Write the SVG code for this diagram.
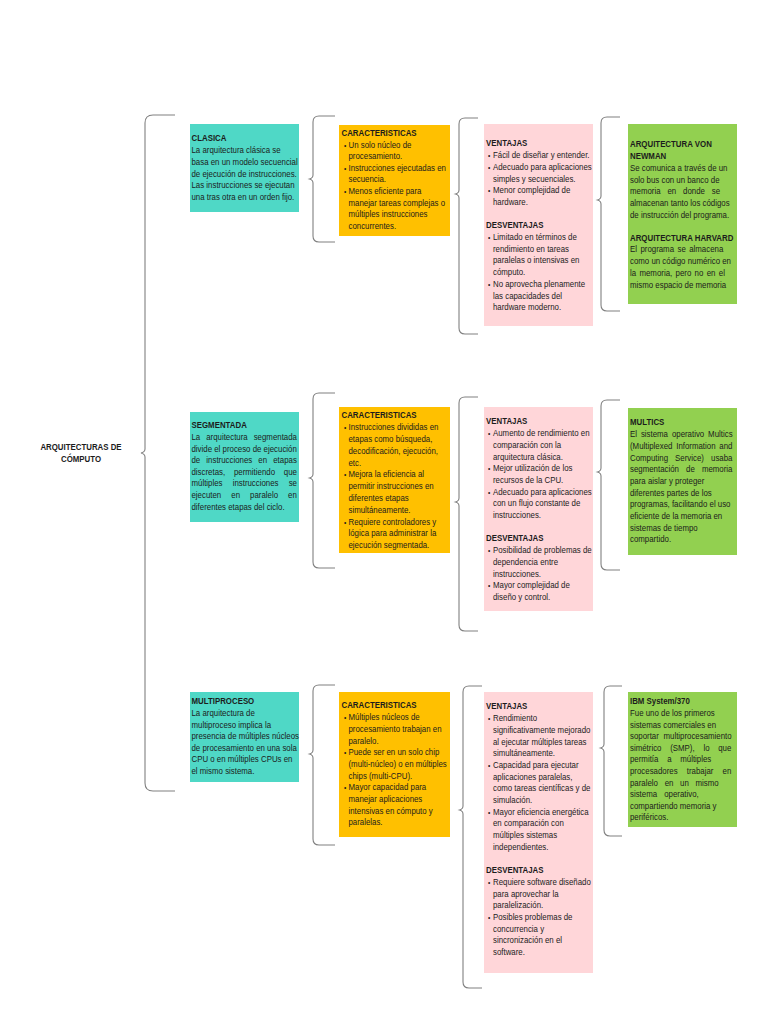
<svg xmlns="http://www.w3.org/2000/svg" width="768" height="1024" viewBox="0 0 768 1024">
<style>
text{font-family:"Liberation Sans",Arial,sans-serif;font-size:9.6px;fill:#1c1c1c}
.h{font-weight:bold}
.bu{font-size:8px}
.br{fill:none;stroke:#808080;stroke-width:1.1}
.teal{fill:#4fd8c6}
.org{fill:#ffc000}
.pink{fill:#ffd6d9}
.grn{fill:#92d050}
</style>
<rect width="768" height="1024" fill="#ffffff"/>
<g id="connectors">
<path class="br" d="M175,115 L153,115 Q145,115 145,123 L145,449 Q145,452 141,453 Q145,454 145,457 L145,783 Q145,791 153,791 L175,791"/>
<path class="br" d="M335,116 L319,116 Q313,116 313,122 L313,175 Q313,178 309.5,179 Q313,180 313,183 L313,236 Q313,242 319,242 L335,242"/>
<path class="br" d="M478,118 L465,118 Q459,118 459,124 L459,190 Q459,193 455.5,194 Q459,195 459,198 L459,328 Q459,334 465,334 L478,334"/>
<path class="br" d="M620,117 L607,117 Q601,117 601,123 L601,196 Q601,199 597.5,200 Q601,201 601,204 L601,305 Q601,311 607,311 L620,311"/>
<path class="br" d="M335,393 L319,393 Q313,393 313,399 L313,474 Q313,477 309.5,478 Q313,479 313,482 L313,562 Q313,568 319,568 L335,568"/>
<path class="br" d="M478,397 L465,397 Q459,397 459,403 L459,498 Q459,501 455.5,502 Q459,503 459,506 L459,625 Q459,631 465,631 L478,631"/>
<path class="br" d="M620,400 L607,400 Q601,400 601,406 L601,468 Q601,471 597.5,472 Q601,473 601,476 L601,564 Q601,570 607,570 L620,570"/>
<path class="br" d="M335,685 L319,685 Q313,685 313,691 L313,750 Q313,753 309.5,754 Q313,755 313,758 L313,839 Q313,845 319,845 L335,845"/>
<path class="br" d="M482,686 L469,686 Q463,686 463,692 L463,806 Q463,809 459.5,810 Q463,811 463,814 L463,982 Q463,988 469,988 L482,988"/>
<path class="br" d="M622,686 L610,686 Q604,686 604,692 L604,744 Q604,747 600.5,748 Q604,749 604,752 L604,830 Q604,836 610,836 L622,836"/>
</g>

<g id="root">
<g transform="translate(81 0) scale(0.82 1)">
<text class="h" text-anchor="middle" y="450.5">ARQUITECTURAS DE</text>
<text class="h" text-anchor="middle" y="462.5">CÓMPUTO</text>
</g>
</g>

<g id="clasica">
<rect class="teal" x="190" y="124" width="109" height="88"/>
<g transform="translate(191.5 0) scale(0.82 1)">
<text class="h" y="141.5">CLASICA</text>
<text y="153.2">La arquitectura clásica se</text>
<text y="164.9">basa en un modelo secuencial</text>
<text y="176.6">de ejecución de instrucciones.</text>
<text y="188.3">Las instrucciones se ejecutan</text>
<text y="200">una tras otra en un orden fijo.</text>
</g>
</g>

<g id="caracteristicas-clasica">
<rect class="org" x="339" y="125" width="111" height="111"/>
<g transform="translate(341.5 0) scale(0.82 1)">
<text class="h" y="136">CARACTERISTICAS</text>
<text class="bu" x="3" y="147.6">•</text><text x="8.5" y="147.6">Un solo núcleo de</text>
<text x="8.5" y="159.2">procesamiento.</text>
<text class="bu" x="3" y="170.8">•</text><text x="8.5" y="170.8">Instrucciones ejecutadas en</text>
<text x="8.5" y="182.4">secuencia.</text>
<text class="bu" x="3" y="194">•</text><text x="8.5" y="194">Menos eficiente para</text>
<text x="8.5" y="205.6">manejar tareas complejas o</text>
<text x="8.5" y="217.2">múltiples instrucciones</text>
<text x="8.5" y="228.8">concurrentes.</text>
</g>
</g>

<g id="ventajas-clasica">
<rect class="pink" x="484" y="124" width="109" height="202"/>
<g transform="translate(486 0) scale(0.82 1)">
<text class="h" y="146.5">VENTAJAS</text>
<text class="bu" x="2.5" y="158.2">•</text><text x="8.5" y="158.2">Fácil de diseñar y entender.</text>
<text class="bu" x="2.5" y="169.9">•</text><text x="8.5" y="169.9">Adecuado para aplicaciones</text>
<text x="8.5" y="181.6">simples y secuenciales.</text>
<text class="bu" x="2.5" y="193.3">•</text><text x="8.5" y="193.3">Menor complejidad de</text>
<text x="8.5" y="205">hardware.</text>
<text class="h" y="228.4">DESVENTAJAS</text>
<text class="bu" x="2.5" y="240.1">•</text><text x="8.5" y="240.1">Limitado en términos de</text>
<text x="8.5" y="251.8">rendimiento en tareas</text>
<text x="8.5" y="263.5">paralelas o intensivas en</text>
<text x="8.5" y="275.2">cómputo.</text>
<text class="bu" x="2.5" y="286.9">•</text><text x="8.5" y="286.9">No aprovecha plenamente</text>
<text x="8.5" y="298.6">las capacidades del</text>
<text x="8.5" y="310.3">hardware moderno.</text>
</g>
</g>

<g id="ejemplos-clasica">
<rect class="grn" x="628" y="124" width="109" height="180"/>
<g transform="translate(630 0) scale(0.82 1)">
<text class="h" y="147.5">ARQUITECTURA VON</text>
<text class="h" y="159.2">NEWMAN</text>
<text y="170.9">Se comunica a través de un</text>
<text y="182.6">solo bus con un banco de</text>
<text y="194.3" word-spacing="5.7">memoria en donde se</text>
<text y="206">almacenan tanto los códigos</text>
<text y="217.7">de instrucción del programa.</text>
<text class="h" y="240.8">ARQUITECTURA HARVARD</text>
<text y="252.5" word-spacing="1.5">El programa se almacena</text>
<text y="264.2">como un código numérico en</text>
<text y="275.9" word-spacing="1.4">la memoria, pero no en el</text>
<text y="287.6">mismo espacio de memoria</text>
</g>
</g>

<g id="segmentada">
<rect class="teal" x="190" y="412" width="109" height="110"/>
<g transform="translate(191.5 0) scale(0.82 1)">
<text class="h" y="428.5">SEGMENTADA</text>
<text y="440.1" word-spacing="4.6">La arquitectura segmentada</text>
<text y="451.7">divide el proceso de ejecución</text>
<text y="463.3" word-spacing="4.8">de instrucciones en etapas</text>
<text y="474.9" word-spacing="8.1">discretas, permitiendo que</text>
<text y="486.5" word-spacing="9.7">múltiples instrucciones se</text>
<text y="498.1" word-spacing="9.6">ejecuten en paralelo en</text>
<text y="509.7">diferentes etapas del ciclo.</text>
</g>
</g>

<g id="caracteristicas-segmentada">
<rect class="org" x="339" y="407" width="111" height="146"/>
<g transform="translate(341.5 0) scale(0.82 1)">
<text class="h" y="418.5">CARACTERISTICAS</text>
<text class="bu" x="3" y="430.3">•</text><text x="8.5" y="430.3">Instrucciones divididas en</text>
<text x="8.5" y="442.1">etapas como búsqueda,</text>
<text x="8.5" y="453.9">decodificación, ejecución,</text>
<text x="8.5" y="465.7">etc.</text>
<text class="bu" x="3" y="477.5">•</text><text x="8.5" y="477.5">Mejora la eficiencia al</text>
<text x="8.5" y="489.3">permitir instrucciones en</text>
<text x="8.5" y="501.1">diferentes etapas</text>
<text x="8.5" y="512.9">simultáneamente.</text>
<text class="bu" x="3" y="524.7">•</text><text x="8.5" y="524.7">Requiere controladores y</text>
<text x="8.5" y="536.5">lógica para administrar la</text>
<text x="8.5" y="548.3">ejecución segmentada.</text>
</g>
</g>

<g id="ventajas-segmentada">
<rect class="pink" x="484" y="407" width="109" height="204"/>
<g transform="translate(486 0) scale(0.82 1)">
<text class="h" y="424.5">VENTAJAS</text>
<text class="bu" x="2.5" y="436.2">•</text><text x="8.5" y="436.2">Aumento de rendimiento en</text>
<text x="8.5" y="447.9">comparación con la</text>
<text x="8.5" y="459.6">arquitectura clásica.</text>
<text class="bu" x="2.5" y="471.3">•</text><text x="8.5" y="471.3">Mejor utilización de los</text>
<text x="8.5" y="483">recursos de la CPU.</text>
<text class="bu" x="2.5" y="494.7">•</text><text x="8.5" y="494.7">Adecuado para aplicaciones</text>
<text x="8.5" y="506.4">con un flujo constante de</text>
<text x="8.5" y="518.1">instrucciones.</text>
<text class="h" y="541.5">DESVENTAJAS</text>
<text class="bu" x="2.5" y="553.2">•</text><text x="8.5" y="553.2">Posibilidad de problemas de</text>
<text x="8.5" y="564.9">dependencia entre</text>
<text x="8.5" y="576.6">instrucciones.</text>
<text class="bu" x="2.5" y="588.3">•</text><text x="8.5" y="588.3">Mayor complejidad de</text>
<text x="8.5" y="600">diseño y control.</text>
</g>
</g>

<g id="ejemplos-segmentada">
<rect class="grn" x="628" y="408" width="109" height="147"/>
<g transform="translate(630 0) scale(0.82 1)">
<text class="h" y="425.5">MULTICS</text>
<text y="437.2" word-spacing="2.1">El sistema operativo Multics</text>
<text y="448.9" word-spacing="2">(Multiplexed Information and</text>
<text y="460.6" word-spacing="6">Computing Service) usaba</text>
<text y="472.3" word-spacing="6">segmentación de memoria</text>
<text y="484">para aislar y proteger</text>
<text y="495.7">diferentes partes de los</text>
<text y="507.4">programas, facilitando el uso</text>
<text y="519.1">eficiente de la memoria en</text>
<text y="530.8">sistemas de tiempo</text>
<text y="542.5">compartido.</text>
</g>
</g>

<g id="multiproceso">
<rect class="teal" x="190" y="692" width="109" height="90"/>
<g transform="translate(191.5 0) scale(0.82 1)">
<text class="h" y="704.5">MULTIPROCESO</text>
<text y="716.1">La arquitectura de</text>
<text y="727.7">multiproceso implica la</text>
<text y="739.3">presencia de múltiples núcleos</text>
<text y="750.9">de procesamiento en una sola</text>
<text y="762.5">CPU o en múltiples CPUs en</text>
<text y="774.1">el mismo sistema.</text>
</g>
</g>

<g id="caracteristicas-multiproceso">
<rect class="org" x="339" y="692" width="111" height="145"/>
<g transform="translate(341.5 0) scale(0.82 1)">
<text class="h" y="708.5">CARACTERISTICAS</text>
<text class="bu" x="3" y="720.2">•</text><text x="8.5" y="720.2">Múltiples núcleos de</text>
<text x="8.5" y="731.9">procesamiento trabajan en</text>
<text x="8.5" y="743.6">paralelo.</text>
<text class="bu" x="3" y="755.3">•</text><text x="8.5" y="755.3">Puede ser en un solo chip</text>
<text x="8.5" y="767">(multi-núcleo) o en múltiples</text>
<text x="8.5" y="778.7">chips (multi-CPU).</text>
<text class="bu" x="3" y="790.4">•</text><text x="8.5" y="790.4">Mayor capacidad para</text>
<text x="8.5" y="802.1">manejar aplicaciones</text>
<text x="8.5" y="813.8">intensivas en cómputo y</text>
<text x="8.5" y="825.5">paralelas.</text>
</g>
</g>

<g id="ventajas-multiproceso">
<rect class="pink" x="484" y="692" width="109" height="281"/>
<g transform="translate(486 0) scale(0.82 1)">
<text class="h" y="709.5">VENTAJAS</text>
<text class="bu" x="2.5" y="721.2">•</text><text x="8.5" y="721.2">Rendimiento</text>
<text x="8.5" y="732.9">significativamente mejorado</text>
<text x="8.5" y="744.6">al ejecutar múltiples tareas</text>
<text x="8.5" y="756.3">simultáneamente.</text>
<text class="bu" x="2.5" y="768">•</text><text x="8.5" y="768">Capacidad para ejecutar</text>
<text x="8.5" y="779.7">aplicaciones paralelas,</text>
<text x="8.5" y="791.4">como tareas científicas y de</text>
<text x="8.5" y="803.1">simulación.</text>
<text class="bu" x="2.5" y="814.8">•</text><text x="8.5" y="814.8">Mayor eficiencia energética</text>
<text x="8.5" y="826.5">en comparación con</text>
<text x="8.5" y="838.2">múltiples sistemas</text>
<text x="8.5" y="849.9">independientes.</text>
<text class="h" y="873.3">DESVENTAJAS</text>
<text class="bu" x="2.5" y="885">•</text><text x="8.5" y="885">Requiere software diseñado</text>
<text x="8.5" y="896.7">para aprovechar la</text>
<text x="8.5" y="908.4">paralelización.</text>
<text class="bu" x="2.5" y="920.1">•</text><text x="8.5" y="920.1">Posibles problemas de</text>
<text x="8.5" y="931.8">concurrencia y</text>
<text x="8.5" y="943.5">sincronización en el</text>
<text x="8.5" y="955.2">software.</text>
</g>
</g>

<g id="ejemplos-multiproceso">
<rect class="grn" x="628" y="692" width="109" height="135"/>
<g transform="translate(630 0) scale(0.82 1)">
<text class="h" y="704.5">IBM System/370</text>
<text y="716.1">Fue uno de los primeros</text>
<text y="727.7">sistemas comerciales en</text>
<text y="739.3" word-spacing="3">soportar multiprocesamiento</text>
<text y="750.9" word-spacing="8">simétrico (SMP), lo que</text>
<text y="762.5" word-spacing="8">permitía a múltiples</text>
<text y="774.1" word-spacing="8.5">procesadores trabajar en</text>
<text y="785.7" word-spacing="5.5">paralelo en un mismo</text>
<text y="797.3" word-spacing="6">sistema operativo,</text>
<text y="808.9">compartiendo memoria y</text>
<text y="820.5">periféricos.</text>
</g>
</g>
</svg>
